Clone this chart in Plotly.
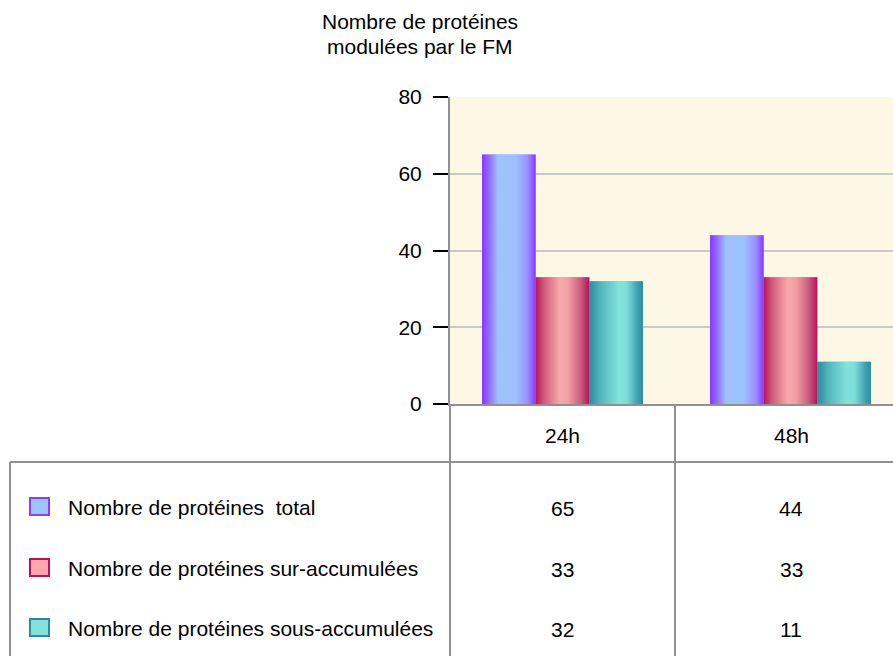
import plotly.graph_objects as go

# ---- data ----
categories = ["24h", "48h"]
series_names = [
    "Nombre de protéines\u00a0 total",
    "Nombre de protéines sur-accumulées",
    "Nombre de protéines sous-accumulées",
]
total = [65, 44]
sur_accumulees = [33, 33]
sous_accumulees = [32, 11]
y_ticks = [0, 20, 40, 60, 80]
title_lines = ["Nombre de protéines", "modulées par le FM"]

# ---- styles ----
dark = ["#8a3cff", "#b8145a", "#2a8c9e"]
light = ["#9ec4ff", "#f8a8aa", "#82e2dc"]
scales = [
    [[0, "#8838ff"], [0.12, "#9066ff"], [0.3, "#9ec2ff"], [0.62, "#9ec2ff"], [0.85, "#9a90ff"], [1, "#8838ff"]],
    [[0, "#b8145a"], [0.15, "#d05a78"], [0.45, "#f8a8aa"], [0.6, "#f2a0a4"], [0.85, "#c8587a"], [1, "#b8105a"]],
    [[0, "#2a8c9e"], [0.2, "#52b4bc"], [0.55, "#82e2dc"], [0.7, "#7cdcd8"], [0.9, "#40a0b0"], [1, "#2a8ea6"]],
]
mid = ["#9aa8ff", "#ec8c98", "#62c6c8"]
FONT = "Liberation Sans, Arial, sans-serif"

W, H = 893, 656
L, T, B = 450, 97, 404
plot_w = W - L
plot_h = B - T


def px2x(px):
    return (px - L) / plot_w


def px2y(py):
    return (B - py) / plot_h


series = [total, sur_accumulees, sous_accumulees]
xs = list(range(len(categories)))
group_w = 0.706
bw = group_w / 3

fig = go.Figure()
for i, vals in enumerate(series):
    fig.add_trace(go.Bar(x=xs, y=vals, name=series_names[i], marker=dict(color=mid[i], line=dict(width=0)),
                         offsetgroup=str(i), showlegend=False, hoverinfo="skip"))
# gradient overlay for each bar
for i, vals in enumerate(series):
    for c, v in zip(xs, vals):
        x0 = c - group_w / 2 + i * bw
        x1 = x0 + bw
        fig.add_trace(go.Scatter(
            x=[x0, x1, x1, x0, x0], y=[0, 0, v, v, 0], mode="lines", fill="toself",
            line=dict(width=0, color=dark[i]),
            fillgradient=dict(type="horizontal", colorscale=scales[i]),
            showlegend=False, hoverinfo="skip"))

fig.update_layout(
    width=W, height=H,
    margin=dict(l=L, r=0, t=T, b=H - B, pad=0),
    paper_bgcolor="white", plot_bgcolor="#fdf7e6",
    barmode="group", bargap=1 - group_w, bargroupgap=0,
    font=dict(family=FONT, size=21, color="black"),
    showlegend=False,
)
fig.update_xaxes(range=[-112.5 / 228, (W - 562.5) / 228], showticklabels=False, ticks="",
                 showgrid=False, zeroline=False, showline=True, linecolor="#909090", linewidth=2)
fig.update_yaxes(range=[0, 80], tickvals=y_ticks, ticks="outside", ticklen=15, tickwidth=2,
                 tickcolor="black", showgrid=True, gridcolor="#c8c8c8", gridwidth=2,
                 zeroline=False, showline=True, linecolor="#909090", linewidth=2,
                 ticklabelstandoff=7, tickfont=dict(family=FONT, size=21))

shapes = []
line_style = dict(color="#909090", width=2)
# table lines
shapes.append(dict(type="line", xref="paper", yref="paper", x0=px2x(450), x1=px2x(450),
                   y0=0, y1=px2y(H + 5), line=line_style))
shapes.append(dict(type="line", xref="paper", yref="paper", x0=px2x(675), x1=px2x(675),
                   y0=0, y1=px2y(H + 5), line=line_style))
shapes.append(dict(type="line", xref="paper", yref="paper", x0=px2x(10), x1=px2x(W + 5),
                   y0=px2y(462), y1=px2y(462), line=line_style))
shapes.append(dict(type="line", xref="paper", yref="paper", x0=px2x(10), x1=px2x(10),
                   y0=px2y(462), y1=px2y(H + 5), line=line_style))

annotations = []
for k, t in enumerate(title_lines):
    annotations.append(dict(text=t, xref="paper", yref="paper", x=px2x(420), y=px2y(22 + 25 * k),
                            xanchor="center", yanchor="middle", showarrow=False,
                            font=dict(family=FONT, size=21)))

col_centers = [562, 791]
for c, cat in enumerate(categories):
    annotations.append(dict(text=cat, xref="paper", yref="paper", x=px2x(col_centers[c]), y=px2y(435),
                            xanchor="center", yanchor="middle", showarrow=False))

row_y = [507, 568, 628]
for i, vals in enumerate(series):
    yy = row_y[i]
    shapes.append(dict(type="rect", xref="paper", yref="paper",
                       x0=px2x(30), x1=px2x(49), y0=px2y(yy - 9), y1=px2y(yy + 8),
                       fillcolor=light[i], line=dict(color=dark[i], width=2)))
    annotations.append(dict(text=series_names[i], xref="paper", yref="paper", x=px2x(66), y=px2y(yy),
                            xanchor="left", yanchor="middle", showarrow=False))
    for c, v in enumerate(vals):
        annotations.append(dict(text=str(v), xref="paper", yref="paper", x=px2x(col_centers[c]),
                                y=px2y(yy + 1), xanchor="center", yanchor="middle", showarrow=False))

fig.update_layout(shapes=shapes, annotations=annotations)
fig.write_html("out.html", config={"displayModeBar": False},
               post_script="document.body.style.margin='0';document.body.style.overflow='hidden';")
